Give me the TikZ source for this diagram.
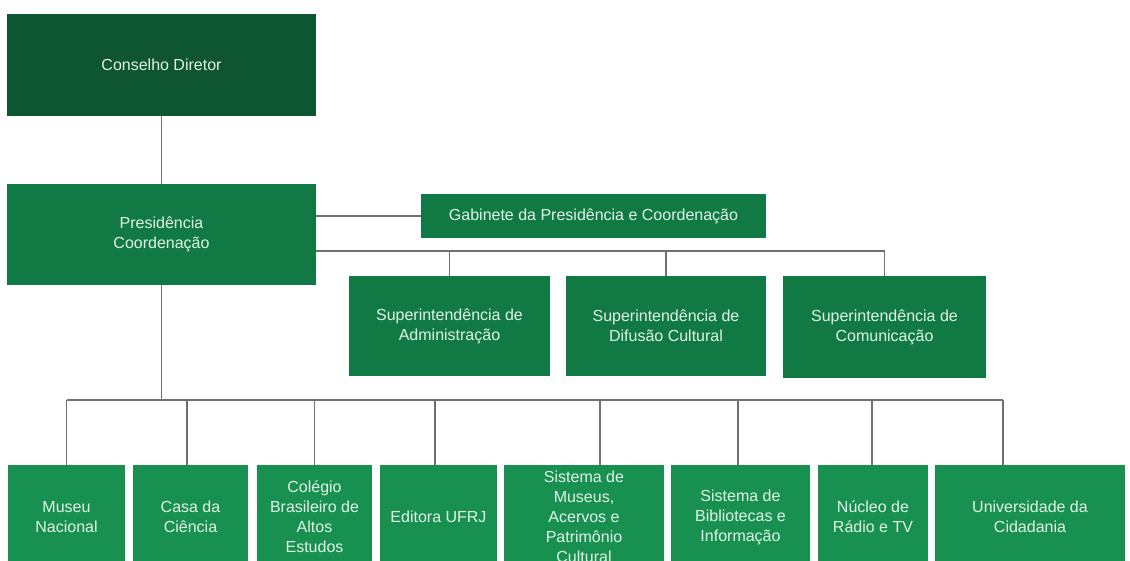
\documentclass[tikz,border=0pt]{standalone}
\usepackage{fontspec}
\setmainfont{Liberation Sans}
\usetikzlibrary{positioning,calc}
\definecolor{GreenD}{RGB}{14,86,50}
\definecolor{GreenM}{RGB}{17,122,68}
\definecolor{GreenL}{RGB}{24,145,80}
\definecolor{Mint}  {RGB}{224,243,231}
\definecolor{Wire}  {RGB}{112,112,112}

\begin{document}
\begin{tikzpicture}[x=1pt,y=-1pt,
    unit/.style={fill=#1,text=Mint,align=center,inner sep=0pt,
      font=\fontsize{16}{20}\selectfont},
    wire/.style={draw=Wire,line width=1.1pt}]
  \useasboundingbox (0,0) rectangle (1130,560);
  \clip (0,0) rectangle (1130,560);
  % top levels
  \node[unit=GreenD,minimum width=309,minimum height=102] (cd) at (161.5,65) {Conselho Diretor};
  \node[unit=GreenM,minimum width=309,minimum height=101] (pc) at (161.5,234.5) {Presidência\\Coordenação};
  \node[unit=GreenM,minimum width=345,minimum height=44] (gab) at (593.5,216) {Gabinete da Presidência e Coordenação};
  \node[unit=GreenM,minimum width=201,minimum height=100] (sadm) at (449.5,326) {Superintendência de\\Administração};
  \node[unit=GreenM,minimum width=200,minimum height=100] (sdif) at (666,326) {Superintendência de\\Difusão Cultural};
  \node[unit=GreenM,minimum width=203,minimum height=102] (scom) at (884.5,327) {Superintendência de\\Comunicação};
  \draw[wire] (cd) -- (pc);
  \draw[wire] (pc.east |- gab.west) -- (gab.west);
  \coordinate (sbus) at (pc.east |- 0,251);
  \draw[wire] (sbus) -| (scom.north);
  \foreach \n in {sadm,sdif}
    \draw[wire] (\n.north) -- (\n.north |- sbus);
  % units
  \coordinate (busL) at (67,400);
  \coordinate (busR) at (1003,400);
  \draw[wire] (pc.south) -- (pc.south |- busL);
  \draw[wire] (busL) -- (busR);
  \foreach \n/\cx/\w/\d/\txt in {mn/66.5/117/0/{Museu\\Nacional},
      cc/190.5/115/-3.5/{Casa da\\Ciência},
      cb/314.5/115/0/{Colégio\\Brasileiro de\\Altos\\Estudos},
      ed/438.5/117/-3.5/{Editora UFRJ},
      sm/584/160/16/{Sistema de\\Museus,\\Acervos e\\Patrimônio\\Cultural},
      sb/740.5/139/-2.5/{Sistema de\\Bibliotecas e\\Informação},
      nr/873/110/-1/{Núcleo de\\Rádio e TV},
      uc/1030/190/-27/{Universidade da\\Cidadania}}{
    \node[unit=GreenL,minimum width=\w,minimum height=104] (\n) at (\cx,517) {\txt};
    \draw[wire] ($(\n.north)+(\d,0)$) -- ($(\n.north |- busL)+(\d,0)$);
  }
\end{tikzpicture}
\end{document}
